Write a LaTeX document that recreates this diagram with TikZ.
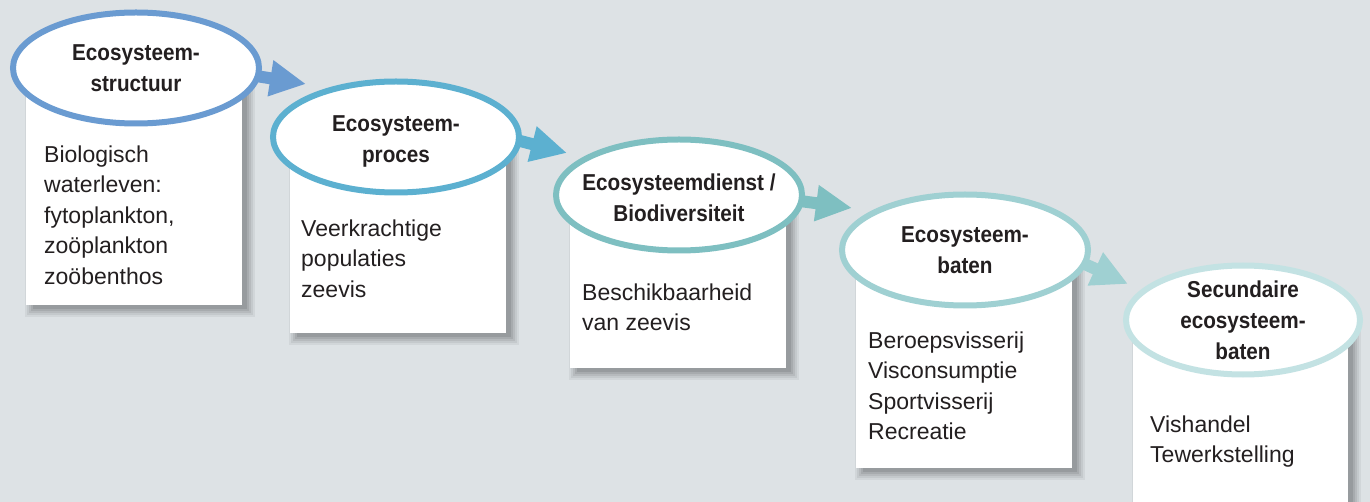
\documentclass[tikz,border=0pt]{standalone}
\usepackage{fontspec}
\setmainfont{Liberation Sans}
\newfontfamily\titlefont[FakeStretch=0.9]{Liberation Sans}
\usetikzlibrary{arrows.meta,shapes.geometric}
\pgfdeclarelayer{bgl}
\pgfdeclarelayer{back}
\pgfdeclarelayer{mid}
\pgfsetlayers{bgl,back,mid,main}
\definecolor{bg}{RGB}{221,226,229}
\definecolor{cA}{HTML}{6A9BD1}
\definecolor{cB}{HTML}{5CB0D0}
\definecolor{cC}{HTML}{7EBFC1}
\definecolor{cD}{HTML}{9FD0D2}
\definecolor{cE}{HTML}{C3E2E3}
\definecolor{txt}{HTML}{231F20}
\newcommand\panelshadow[4]{%
  \foreach \r/\o in {8/0.05,6/0.06,4/0.07,2/0.08,0/0.09}{%
    \fill[black,opacity=\o] (#1+7-\r,#2) rectangle (#3+5+\r,#4+4+\r);}}
\begin{document}
\begin{tikzpicture}[x=1pt,y=-1pt,
  oval/.style={ellipse, draw, line width=6pt, fill=white, minimum width=246pt, minimum height=111pt, inner sep=0pt},
  titletext/.style={font=\titlefont\bfseries\fontsize{23}{31}\selectfont, text=txt, align=center, inner sep=0pt},
  bodytext/.style={font=\fontsize{23}{30.5}\selectfont, text=txt, align=left, anchor=north west, inner sep=0pt},
  panel/.style={fill=white, draw=none},
  flow/.style={line width=12pt, -{Triangle[length=36pt,width=34pt]}, shorten <=-8pt},
]
\useasboundingbox (0,0) rectangle (1370,502);

\begin{pgfonlayer}{bgl}
\fill[bg] (0,0) rectangle (1370,502);
\end{pgfonlayer}

\begin{pgfonlayer}{back}
% shadows
\panelshadow{26}{80}{242}{305}
\panelshadow{290}{150}{506}{333}
\panelshadow{570}{205}{786}{368}
\panelshadow{856}{260}{1072}{468}
\panelshadow{1133}{330}{1348}{520}
% panels
\fill[panel] (26,68) rectangle (242,305);
\fill[panel] (290,137) rectangle (506,333);
\fill[panel] (570,195) rectangle (786,368);
\fill[panel] (856,250) rectangle (1072,468);
\fill[panel] (1133,320) rectangle (1348,520);
\end{pgfonlayer}

% ellipses
\node[oval, draw=cA] (e1) at (136,68) {};
\node[oval, draw=cB] (e2) at (396,137) {};
\node[oval, draw=cC] (e3) at (679,195) {};
\node[oval, draw=cD] (e4) at (965,250) {};
\node[oval, draw=cE, minimum width=234pt, minimum height=109pt] (e5) at (1243,320) {};

\coordinate (p1) at (306,84);
\coordinate (p2) at (567,153);
\coordinate (p3) at (852,208);
\coordinate (p4) at (1128,284);

% arrows (below the ellipses)
\begin{pgfonlayer}{mid}
\draw[flow, cA] (e1.-4) -- (p1);
\draw[flow, cB] (e2.-2) -- (p2);
\draw[flow, cC] (e3.-3) -- (p3);
\draw[flow, cD] (e4.-7) -- (p4);
\end{pgfonlayer}

% titles
\node[titletext] (t1) at (e1.center) {Ecosysteem-\\structuur};
\node[titletext] (t2) at ([yshift=-4pt]e2.center) {Ecosysteem-\\proces};
\node[titletext] (t3) at ([yshift=-3pt]e3.center) {Ecosysteemdienst /\\Biodiversiteit};
\node[titletext] (t4) at (e4.center) {Ecosysteem-\\baten};
\node[titletext] (t5) at (e5.center) {Secundaire\\ecosysteem-\\baten};

% body texts (top of first line = baseline - 16.8)
\node[bodytext] (l1) at (44,145.2) {Biologisch\\waterleven:\\fytoplankton,\\zoöplankton\\zoöbenthos};
\node[bodytext] (l2) at (301,219.2) {Veerkrachtige\\populaties\\zeevis};
\node[bodytext] (l3) at (582,283.2) {Beschikbaarheid\\van zeevis};
\node[bodytext] (l4) at (868,331.2) {Beroepsvisserij\\Visconsumptie\\Sportvisserij\\Recreatie};
\node[bodytext] (l5) at (1150,415.2) {Vishandel\\Tewerkstelling};
\end{tikzpicture}
\end{document}
